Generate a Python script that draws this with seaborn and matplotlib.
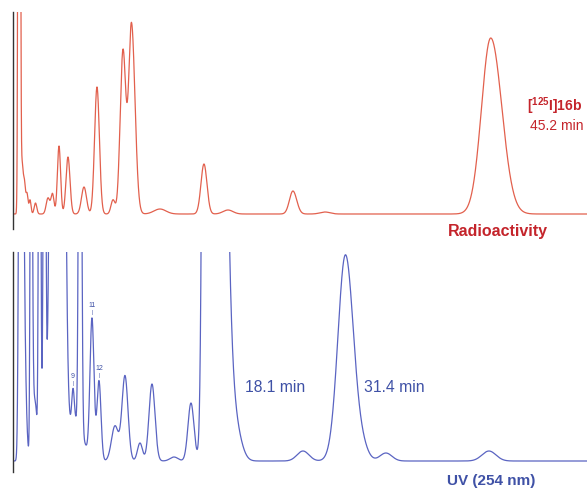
import numpy as np
import pandas as pd
import seaborn as sns
import matplotlib.pyplot as plt

# peak tables (time in min, height in detector units)
radio_rt = [0.624, 0.888, 1.125, 1.361, 1.645, 2.164, 3.346, 3.771, 4.386, 5.236,
            6.749, 7.977, 9.49, 10.435, 11.238, 13.93, 18.09, 20.36, 26.5, 29.53, 45.2]
radio_height = [2000, 50, 28, 20, 14, 11, 16, 20, 68, 57,
                27, 127, 14, 163, 190, 5, 50, 4, 23, 2, 176]
radio_sig_left = [0.076, 0.113, 0.095, 0.095, 0.095, 0.123, 0.17, 0.142, 0.151, 0.189,
                  0.236, 0.227, 0.19, 0.265, 0.265, 0.567, 0.284, 0.47, 0.33, 0.47, 0.87]
radio_sig_right = [0.076, 0.113, 0.095, 0.095, 0.095, 0.123, 0.17, 0.142, 0.151, 0.189,
                   0.236, 0.227, 0.19, 0.265, 0.331, 0.567, 0.284, 0.47, 0.36, 0.47, 1.05]

uv_rt = [0.699, 1.739, 2.117, 2.543, 3.015, 4.244, 5.709, 5.992, 6.371, 7.505,
         8.166, 9.679, 10.624, 12.04, 13.176, 15.26, 16.862, 18.469, 21.115, 27.45,
         31.465, 33.04, 35.29, 45.03]
uv_height = [600, 500, 60, 600, 600, 3000, 35, 40, 700, 140,
             80, 35, 85, 18, 77, 4, 58, 3000, 25, 10,
             206, 12, 8, 10]
uv_sig_left = [0.113, 0.076, 0.189, 0.085, 0.104, 0.369, 0.123, 0.662, 0.113, 0.189,
               0.189, 0.331, 0.284, 0.236, 0.284, 0.378, 0.284, 0.284, 0.567, 0.567,
               0.709, 0.567, 0.567, 0.662]
uv_sig_right = [0.284, 0.113, 0.189, 0.104, 0.104, 0.369, 0.123, 0.662, 0.123, 0.189,
                0.189, 0.331, 0.284, 0.236, 0.284, 0.378, 0.284, 0.879, 0.567, 0.567,
                0.756, 0.567, 0.567, 0.662]

peak_labels = ['9', '11', '12']
peak_label_idx = [6, 9, 10]

red_line = '#e2604d'
red_text = '#c4242b'
blue_line = '#5a64c2'
blue_text = '#3f51a6'


def trace(t, rt, h, sl, sr):
    y = np.zeros_like(t)
    for r, a, s1, s2 in zip(rt, h, sl, sr):
        s = np.where(t < r, s1, s2)
        y += a * np.exp(-(t - r) ** 2 / (2 * s ** 2))
    return y


t = np.linspace(0, 54.3, 8000)
df_radio = pd.DataFrame({'time': t, 'signal': trace(t, radio_rt, radio_height, radio_sig_left, radio_sig_right)})
df_uv = pd.DataFrame({'time': t, 'signal': trace(t, uv_rt, uv_height, uv_sig_left, uv_sig_right)})

sns.set_style('white')
plt.rcParams['font.family'] = ['Liberation Sans', 'DejaVu Sans']
plt.rcParams['mathtext.fontset'] = 'custom'
plt.rcParams['mathtext.rm'] = 'Liberation Sans'
plt.rcParams['mathtext.bf'] = 'Liberation Sans:bold'

W, H = 587, 489
fig = plt.figure(figsize=(W / 100, H / 100), dpi=100)
ax1 = fig.add_axes([12.6 / W, 1 - 230 / H, 1 - 12.6 / W, 217 / H])
ax2 = fig.add_axes([12.6 / W, 1 - 473 / H, 1 - 12.6 / W, 220 / H])

sns.lineplot(data=df_radio, x='time', y='signal', ax=ax1, color=red_line, lw=0.9)
sns.lineplot(data=df_uv, x='time', y='signal', ax=ax2, color=blue_line, lw=0.9)

ax1.set_ylim(-15, 202)
ax2.set_ylim(-11, 209)
for ax in (ax1, ax2):
    ax.set_xlim(0, 54.3)
    ax.set_xticks([])
    ax.set_yticks([])
    ax.set_xlabel('')
    ax.set_ylabel('')
    for side in ('top', 'right', 'bottom'):
        ax.spines[side].set_visible(False)
    ax.spines['left'].set_color('#333333')
    ax.spines['left'].set_linewidth(1.0)

# small peak numbers on the UV trace
uv_vals = df_uv['signal'].to_numpy()
for lab, i in zip(peak_labels, peak_label_idx):
    r = uv_rt[i]
    yv = np.interp(r, t, uv_vals)
    ax2.text(r, yv + 13, lab, fontsize=5, color=blue_text, ha='center', va='center')
    ax2.text(r, yv + 6, '|', fontsize=3.5, color=blue_text, ha='center', va='center')

fig.text(582 / W, 1 - 111 / H, r'[$^{\mathbf{125}}$I]16b', fontsize=10, fontweight='bold',
         color=red_text, ha='right', va='baseline')
fig.text(583 / W, 1 - 130 / H, '45.2 min', fontsize=10, color=red_text, ha='right', va='baseline')
fig.text(448 / W, 1 - 236 / H, 'Radioactivity', fontsize=11.5, fontweight='bold',
         color=red_text, ha='left', va='baseline')
fig.text(245 / W, 1 - 388 / H, '18.1 min', fontsize=11.3, color=blue_text, ha='left', va='center')
fig.text(364 / W, 1 - 388 / H, '31.4 min', fontsize=11.3, color=blue_text, ha='left', va='center')
fig.text(447 / W, 1 - 485 / H, 'UV (254 nm)', fontsize=11, fontweight='bold',
         color=blue_text, ha='left', va='baseline')

fig.savefig('out.png', dpi=100)
